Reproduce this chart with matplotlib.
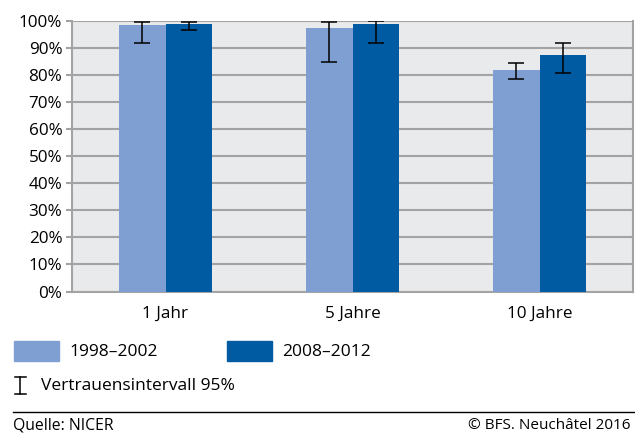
import matplotlib
matplotlib.use("Agg")
import matplotlib.pyplot as plt
import numpy as np
from matplotlib.patches import Rectangle
from matplotlib.lines import Line2D

plt.rcParams['font.family'] = ['Open Sans', 'DejaVu Sans']

categories = ["1 Jahr", "5 Jahre", "10 Jahre"]
series_names = ["1998–2002", "2008–2012"]
vals_1998 = [98.5, 97.4, 81.9]
low_1998 = [91.7, 84.8, 78.5]
high_1998 = [99.8, 99.8, 84.4]
vals_2008 = [98.9, 98.9, 87.4]
low_2008 = [96.7, 92.0, 80.7]
high_2008 = [99.8, 99.9, 91.7]
yticks = [0, 10, 20, 30, 40, 50, 60, 70, 80, 90, 100]

c_light = "#7f9fd3"
c_dark = "#005ba3"
grid_c = "#a3a3a3"

fig = plt.figure(figsize=(6.35, 4.34), dpi=100)
ax = fig.add_axes([72/635, 1-291.5/434, 561/635, 270.5/434])
ax.set_facecolor("#e9eaec")

x = np.arange(len(categories))
w = 0.25
def errs(v, lo, hi):
    v, lo, hi = map(np.array, (v, lo, hi))
    return np.vstack([v - lo, hi - v])

ekw = dict(ecolor="black", elinewidth=1.1, capsize=5.5, capthick=1.1)
ax.bar(x - w/2, vals_1998, w, color=c_light, yerr=errs(vals_1998, low_1998, high_1998), error_kw=ekw, zorder=3)
ax.bar(x + w/2, vals_2008, w, color=c_dark, yerr=errs(vals_2008, low_2008, high_2008), error_kw=ekw, zorder=3)

ax.set_xlim(-0.5, 2.5)
ax.set_ylim(0, 100)
ax.set_yticks(yticks)
ax.set_yticklabels([f"{t}%" for t in yticks])
ax.set_xticks(x)
ax.set_xticklabels(categories)
ax.yaxis.grid(True, color=grid_c, linewidth=1.5, zorder=0)
ax.set_axisbelow(True)
ax.spines["top"].set_visible(False)
for s in ["left", "bottom", "right"]:
    ax.spines[s].set_color(grid_c)
    ax.spines[s].set_linewidth(1.5)
ax.tick_params(axis="y", length=4, color=grid_c, width=1.5, labelsize=12.3, pad=3)
ax.tick_params(axis="x", length=0, labelsize=12.3, pad=10)

fs = 12.5
# legend
fig.patches.append(Rectangle((14/635, 1-361/434), 45/635, 20/434, transform=fig.transFigure, color=c_light, figure=fig))
fig.patches.append(Rectangle((227/635, 1-361/434), 45/635, 20/434, transform=fig.transFigure, color=c_dark, figure=fig))
fig.text(69/635, 1-352/434, series_names[0], fontsize=fs, va="center", ha="left")
fig.text(282/635, 1-352/434, series_names[1], fontsize=fs, va="center", ha="left")
# error symbol
for ln in [((20, 20), (377, 394)), ((14.5, 25.5), (377, 377)), ((14.5, 25.5), (394, 394))]:
    fig.lines.append(Line2D([v/635 for v in ln[0]], [1 - v/434 for v in ln[1]], transform=fig.transFigure, color="black", linewidth=1.1))
fig.text(41/635, 1-386/434, "Vertrauensintervall 95%", fontsize=fs, va="center", ha="left")
fig.lines.append(Line2D([13/635, 1], [1-412/434, 1-412/434], transform=fig.transFigure, color="black", linewidth=1.0))
fig.text(13/635, 1/434, "Quelle: NICER", fontsize=11.3, va="bottom", ha="left")
fig.text(631/635, 1/434, "© BFS. Neuchâtel 2016", fontsize=11, va="bottom", ha="right")

fig.savefig("out.png", dpi=100)
